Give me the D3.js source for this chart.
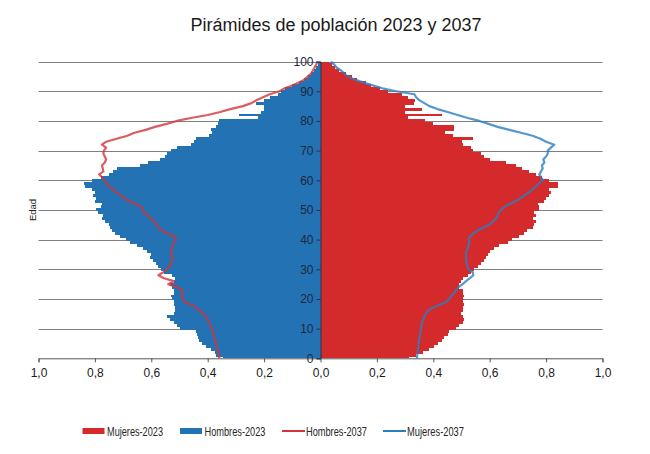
<!DOCTYPE html>
<html><head><meta charset="utf-8">
<script src="https://cdn.jsdelivr.net/npm/d3@7"></script>
<style>body{margin:0;background:#fff}svg{display:block}</style>
</head><body>
<svg id="chart" width="650" height="454"></svg>
<script>
const title = "Pirámides de población 2023 y 2037";
const ages = d3.range(0, 101);
const hombres2023 = [
0.347,0.37,0.375,0.39,0.405,0.42,0.43,0.435,0.437,0.44,
0.50,0.51,0.52,0.535,0.545,0.52,0.515,0.515,0.52,0.52,
0.525,0.53,0.52,0.52,0.525,0.535,0.52,0.515,0.525,0.555,
0.565,0.575,0.585,0.595,0.605,0.60,0.615,0.63,0.65,0.675,
0.69,0.71,0.73,0.74,0.745,0.75,0.765,0.775,0.77,0.79,
0.795,0.78,0.775,0.80,0.795,0.805,0.80,0.81,0.835,0.84,
0.81,0.78,0.75,0.735,0.72,0.64,0.61,0.57,0.55,0.545,
0.53,0.51,0.46,0.45,0.44,0.395,0.385,0.39,0.37,0.365,
0.36,0.22,0.29,0.21,0.20,0.20,0.228,0.20,0.18,0.15,
0.139,0.125,0.10,0.075,0.058,0.045,0.032,0.022,0.015,0.01,
0.006];
const mujeres2023 = [
0.315,0.339,0.362,0.386,0.404,0.415,0.431,0.439,0.451,0.457,
0.48,0.492,0.504,0.51,0.504,0.498,0.504,0.504,0.51,0.504,
0.504,0.51,0.507,0.504,0.492,0.49,0.498,0.504,0.522,0.534,
0.545,0.557,0.569,0.581,0.587,0.593,0.60,0.616,0.634,0.664,
0.68,0.705,0.722,0.734,0.752,0.758,0.764,0.752,0.764,0.758,
0.776,0.776,0.77,0.793,0.799,0.81,0.816,0.81,0.841,0.841,
0.81,0.787,0.764,0.74,0.716,0.693,0.657,0.60,0.58,0.57,
0.54,0.533,0.504,0.50,0.54,0.47,0.44,0.475,0.475,0.40,
0.37,0.31,0.43,0.30,0.36,0.30,0.33,0.335,0.31,0.29,
0.238,0.21,0.18,0.16,0.13,0.11,0.089,0.065,0.05,0.04,
0.03];
const hombres2037 = [
0.359,0.361,0.363,0.365,0.368,0.37,0.373,0.376,0.379,0.382,
0.385,0.39,0.395,0.40,0.408,0.415,0.428,0.44,0.457,0.48,
0.489,0.492,0.49,0.49,0.51,0.54,0.52,0.555,0.575,0.557,
0.545,0.535,0.53,0.527,0.525,0.53,0.53,0.527,0.525,0.52,
0.514,0.514,0.54,0.56,0.575,0.58,0.59,0.60,0.61,0.625,
0.63,0.635,0.655,0.68,0.695,0.71,0.725,0.737,0.75,0.76,
0.767,0.775,0.785,0.77,0.772,0.775,0.765,0.76,0.765,0.77,
0.768,0.76,0.775,0.76,0.723,0.685,0.66,0.62,0.587,0.545,
0.51,0.46,0.40,0.356,0.32,0.275,0.245,0.227,0.204,0.18,
0.145,0.127,0.098,0.075,0.057,0.045,0.033,0.027,0.021,0.015,
0.012];
const mujeres2037 = [
0.342,0.343,0.344,0.346,0.347,0.348,0.35,0.351,0.353,0.355,
0.356,0.358,0.36,0.364,0.368,0.374,0.38,0.398,0.421,0.445,
0.457,0.463,0.475,0.48,0.49,0.504,0.516,0.53,0.542,0.54,
0.525,0.522,0.518,0.516,0.516,0.516,0.516,0.522,0.525,0.528,
0.525,0.53,0.54,0.557,0.575,0.599,0.61,0.622,0.628,0.632,
0.64,0.652,0.67,0.693,0.711,0.723,0.741,0.752,0.764,0.776,
0.788,0.782,0.776,0.782,0.788,0.785,0.794,0.79,0.80,0.806,
0.806,0.817,0.829,0.80,0.78,0.752,0.711,0.67,0.628,0.596,
0.563,0.522,0.486,0.451,0.415,0.386,0.368,0.35,0.339,0.333,
0.268,0.22,0.185,0.15,0.12,0.096,0.085,0.073,0.057,0.049,
0.037];
const xTicks = [-1, -0.8, -0.6, -0.4, -0.2, 0, 0.2, 0.4, 0.6, 0.8, 1];
const yTicks = [0, 10, 20, 30, 40, 50, 60, 70, 80, 90, 100];
const seriesNames = ["Mujeres-2023", "Hombres-2023", "Hombres-2037", "Mujeres-2037"];

const C_RED = "#d42a2c", C_BLUE = "#2372b4", C_RLINE = "#d2343a", C_BLINE = "#2a7dc0";

const svg = d3.select("#chart");
const x = d3.scaleLinear().domain([-1, 1]).range([38.5, 602.5]);
const y = d3.scaleLinear().domain([0, 100]).range([358.3, 61.6]);

// title
svg.append("text").attr("x", 336).attr("y", 31).attr("text-anchor", "middle")
  .style("font-family", "'Liberation Sans', Arial, sans-serif").style("font-size", "18px")
  .attr("fill", "#1a1a1a").text(title);

// gridlines
svg.append("g").selectAll("line").data(yTicks.filter(d => d > 0)).join("line")
  .attr("x1", x(-1)).attr("x2", x(1)).attr("y1", d => Math.round(y(d)) + 0.5).attr("y2", d => Math.round(y(d)) + 0.5)
  .attr("stroke", "#7f7f7f").attr("stroke-width", 1);

// bars
const barTop = a => Math.round(y(Math.min(a + 0.5, 100)));
const barBot = a => Math.round(y(Math.max(a - 0.5, 0)));
svg.append("g").attr("shape-rendering", "crispEdges").selectAll("rect").data(ages).join("rect")
  .attr("x", a => x(-hombres2023[a])).attr("width", a => x(0) - x(-hombres2023[a]))
  .attr("y", a => barTop(a)).attr("height", a => barBot(a) - barTop(a))
  .attr("fill", C_BLUE);
svg.append("g").attr("shape-rendering", "crispEdges").selectAll("rect").data(ages).join("rect")
  .attr("x", x(0)).attr("width", a => x(mujeres2023[a]) - x(0))
  .attr("y", a => barTop(a)).attr("height", a => barBot(a) - barTop(a))
  .attr("fill", C_RED);

// lines
const lineH = d3.line().x(a => x(-hombres2037[a])).y(a => y(a));
const lineM = d3.line().x(a => x(mujeres2037[a])).y(a => y(a));
svg.append("path").attr("d", lineH(ages)).attr("fill", "none").attr("stroke", C_RLINE)
  .attr("stroke-width", 2.2).attr("stroke-opacity", 0.8).attr("stroke-linejoin", "round");
svg.append("path").attr("d", lineM(ages)).attr("fill", "none").attr("stroke", C_BLINE)
  .attr("stroke-width", 2.2).attr("stroke-opacity", 0.8).attr("stroke-linejoin", "round");

// x axis
const fmt = d => d3.format(".1f")(Math.abs(d)).replace(".", ",");
const xAxis = svg.append("g").attr("transform", `translate(0,${y(0)})`)
  .call(d3.axisBottom(x).tickValues(xTicks).tickFormat(fmt).tickSize(4).tickPadding(6));
xAxis.select(".domain").attr("stroke", "#555");
xAxis.selectAll(".tick line").attr("stroke", "#555");
xAxis.selectAll("text").style("font-family", "'Liberation Sans', Arial, sans-serif")
  .style("font-size", "12px").attr("fill", "#1a1a1a");

// y axis at center
const yAxis = svg.append("g").attr("transform", `translate(${x(0)},0)`)
  .call(d3.axisLeft(y).tickValues(yTicks).tickSize(4).tickPadding(3));
yAxis.select(".domain").attr("stroke", "#2b3245");
yAxis.selectAll(".tick line").attr("stroke", "#2b3245");
yAxis.selectAll("text").style("font-family", "'Liberation Sans', Arial, sans-serif")
  .style("font-size", "12px").attr("fill", "#1d2840");

// y label
svg.append("text").attr("transform", "translate(36,210) rotate(-90)").attr("text-anchor", "middle")
  .style("font-family", "'Liberation Sans', Arial, sans-serif").style("font-size", "9.5px")
  .attr("fill", "#222").text("Edad");

// legend
const legX = [82.5, 180, 282, 383];
const legTL = [56, 61, 61, 57];
const leg = svg.append("g").selectAll("g").data(seriesNames).join("g")
  .attr("transform", (d, i) => `translate(${legX[i]},431)`);
leg.each(function(d, i) {
  const g = d3.select(this);
  if (i < 2) {
    g.append("rect").attr("x", 0).attr("y", -3).attr("width", 22).attr("height", 6)
      .attr("fill", i === 0 ? C_RED : C_BLUE);
  } else {
    g.append("line").attr("x1", 0).attr("x2", 23).attr("y1", 0).attr("y2", 0)
      .attr("stroke", i === 2 ? C_RLINE : C_BLINE).attr("stroke-width", 2);
  }
  g.append("text").attr("x", i < 2 ? 24.5 : 24).attr("y", 4.6)
    .style("font-family", "'Liberation Sans Narrow', 'Arial Narrow', 'Liberation Sans', sans-serif")
    .style("font-size", "12.5px").attr("fill", "#262626")
    .attr("textLength", legTL[i]).attr("lengthAdjust", "spacingAndGlyphs").text(d);
});
</script>
</body></html>
